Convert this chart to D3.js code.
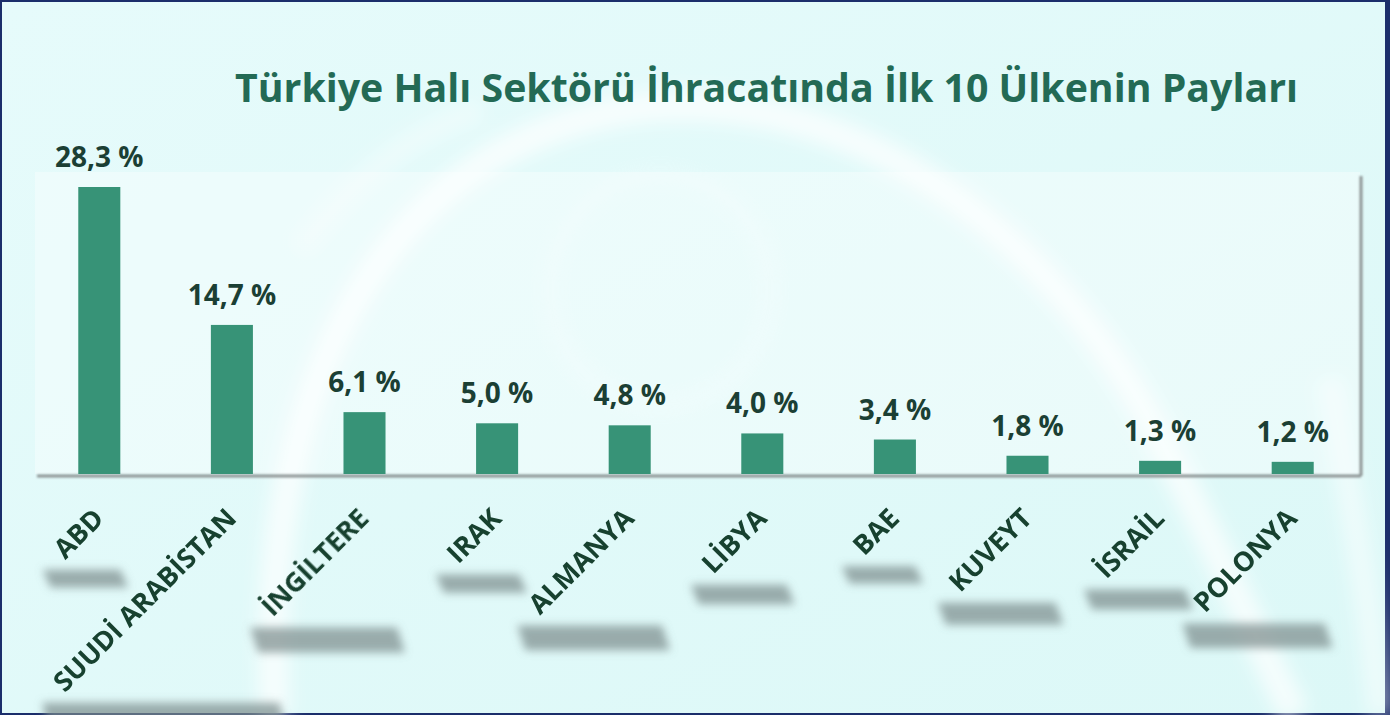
<!DOCTYPE html>
<html>
<head>
<meta charset="utf-8">
<script src="https://cdn.jsdelivr.net/npm/d3@7"></script>
<style>
  html, body { margin: 0; padding: 0; background: #ffffff; }
  svg { display: block; }
</style>
</head>
<body>
<div class="vis-barchart"></div>
<script>
// chart data
const countries = ["ABD", "SUUDİ ARABİSTAN", "İNGİLTERE", "IRAK", "ALMANYA", "LİBYA", "BAE", "KUVEYT", "İSRAİL", "POLONYA"];
const shares = [28.3, 14.7, 6.1, 5.0, 4.8, 4.0, 3.4, 1.8, 1.3, 1.2];
const chartTitle = "Türkiye Halı Sektörü İhracatında İlk 10 Ülkenin Payları";

const config = {
    "bar-color": "#379377",
    "value-color": "#1b3f34",
    "label-color": "#17412f",
    "title-color": "#236a55",
    "font": "'Open Sans', 'DejaVu Sans', sans-serif"
};

const width = 1390, height = 715;
const plot = {left: 35, right: 1360, top: 172, bottom: 474};

const svg = d3.select(".vis-barchart")
    .append("svg")
    .attr("width", width)
    .attr("height", height);

const defs = svg.append("defs");
const bgGrad = defs.append("linearGradient")
    .attr("id", "bg-grad")
    .attr("x1", 0).attr("y1", 0).attr("x2", 1).attr("y2", 1);
bgGrad.append("stop").attr("offset", "0%").attr("stop-color", "#e6fbfb");
bgGrad.append("stop").attr("offset", "100%").attr("stop-color", "#dcf8f7");

defs.append("filter").attr("id", "blur-arc")
    .attr("x", "-10%").attr("y", "-10%").attr("width", "120%").attr("height", "120%")
    .append("feGaussianBlur").attr("stdDeviation", 9);
defs.append("filter").attr("id", "blur-shadow")
    .attr("x", "-30%").attr("y", "-80%").attr("width", "160%").attr("height", "260%")
    .append("feGaussianBlur").attr("stdDeviation", 4.5);
defs.append("filter").attr("id", "blur-edge")
    .attr("x", "-5%").attr("y", "-50%").attr("width", "110%").attr("height", "200%")
    .append("feGaussianBlur").attr("stdDeviation", 1.2);

// frame + background
svg.append("rect").attr("width", width).attr("height", height).attr("fill", "#1b2e6b");
svg.append("rect")
    .attr("x", 2).attr("y", 2)
    .attr("width", 1383).attr("height", 711)
    .attr("fill", "url(#bg-grad)");

// white swooshes in the background
const arcs = svg.append("g").attr("filter", "url(#blur-arc)").attr("fill", "none").attr("stroke", "#ffffff");
arcs.append("path")
    .attr("d", "M 275 715 C 255 380, 390 140, 640 108 C 860 85, 1050 240, 1150 420 C 1215 540, 1255 640, 1295 715")
    .attr("stroke-width", 30).attr("opacity", 0.7);
arcs.append("path")
    .attr("d", "M 300 250 C 360 170, 420 130, 480 110")
    .attr("stroke-width", 22).attr("opacity", 0.35);
arcs.append("path")
    .attr("d", "M 1330 380 C 1350 500, 1370 600, 1380 715")
    .attr("stroke-width", 24).attr("opacity", 0.5);
svg.append("ellipse")
    .attr("cx", 660).attr("cy", 290).attr("rx", 110).attr("ry", 115)
    .attr("fill", "none").attr("stroke", "#ffffff").attr("stroke-width", 10)
    .attr("opacity", 0.3).attr("filter", "url(#blur-arc)");

// plot area
svg.append("rect")
    .attr("x", plot.left).attr("y", plot.top)
    .attr("width", plot.right - plot.left).attr("height", plot.bottom - plot.top)
    .attr("fill", "#ffffff").attr("opacity", 0.35);
const edges = svg.append("g").attr("filter", "url(#blur-edge)").attr("stroke", "#8e9494");
edges.append("line")
    .attr("x1", plot.left + 2).attr("x2", plot.right + 1)
    .attr("y1", plot.bottom + 2).attr("y2", plot.bottom + 2)
    .attr("stroke-width", 3);
edges.append("line")
    .attr("x1", plot.right + 1).attr("x2", plot.right + 1)
    .attr("y1", plot.top + 4).attr("y2", plot.bottom + 2)
    .attr("stroke-width", 3);

// scales
const xScale = d3.scaleBand()
    .domain(countries)
    .range([plot.left - 2, plot.right - 1])
    .paddingInner(0.683)
    .paddingOuter(0.3415);

const yScale = d3.scaleLinear()
    .domain([0, d3.max(shares)])
    .range([plot.bottom, 187]);

const fmt = d => d3.format(".1f")(d).replace(".", ",") + " %";

// bars
svg.append("g").selectAll("rect.bar")
    .data(countries)
    .enter()
    .append("rect")
    .attr("class", "bar")
    .attr("x", d => xScale(d))
    .attr("y", (d, i) => yScale(shares[i]))
    .attr("width", xScale.bandwidth())
    .attr("height", (d, i) => yScale(0) - yScale(shares[i]))
    .attr("fill", config["bar-color"]);

// value labels
svg.append("g").selectAll("text.value")
    .data(countries)
    .enter()
    .append("text")
    .attr("class", "value")
    .attr("x", d => xScale(d) + xScale.bandwidth() / 2)
    .attr("y", (d, i) => yScale(shares[i]) - 20)
    .attr("text-anchor", "middle")
    .attr("fill", config["value-color"])
    .style("font-family", config.font)
    .style("font-weight", 700)
    .style("font-size", "28px")
    .text((d, i) => fmt(shares[i]));

// category labels, rotated
const shadowLayer = svg.append("g").attr("filter", "url(#blur-shadow)");
const labels = svg.append("g").selectAll("text.cat")
    .data(countries)
    .enter()
    .append("text")
    .attr("class", "cat")
    .attr("text-anchor", "end")
    .attr("transform", d => `translate(${xScale(d) + xScale.bandwidth() / 2 + 6}, 520) rotate(-45)`)
    .attr("fill", config["label-color"])
    .style("font-family", config.font)
    .style("font-weight", 700)
    .style("font-size", "27px")
    .text(d => d);

// blurred shadow under each label
labels.each(function() {
    const b = this.getBoundingClientRect();
    const w = b.width;
    const extra = 0.2 * w + 2;
    const h = 0.13 * w + 9;
    const top = b.bottom + 4;
    const pts = [
        [b.left - 2, top],
        [b.right + extra - 6, top],
        [b.right + extra + 2, top + h],
        [b.left + 6, top + h]
    ];
    shadowLayer.append("path")
        .attr("d", "M" + pts.map(p => p.join(",")).join("L") + "Z")
        .attr("fill", "#7b8a8a")
        .attr("opacity", 0.7);
});

// title
svg.append("text")
    .attr("x", 235)
    .attr("y", 102)
    .attr("fill", config["title-color"])
    .style("font-family", config.font)
    .style("font-weight", 700)
    .style("font-size", "39px")
    .attr("textLength", 1063)
    .attr("lengthAdjust", "spacingAndGlyphs")
    .text(chartTitle);
</script>
</body>
</html>
